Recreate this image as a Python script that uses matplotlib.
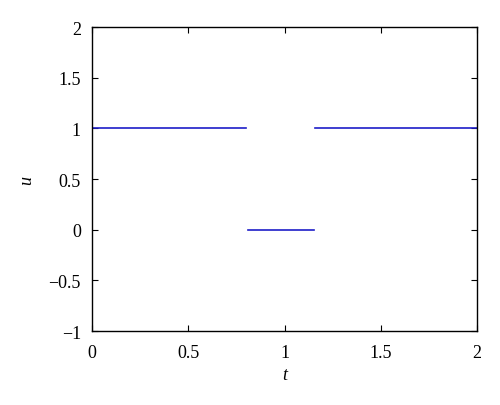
import numpy as np
import matplotlib
matplotlib.use("Agg")
import matplotlib.pyplot as plt

# piecewise constant control u(t)
seg_t = [[0.0, 0.8], [0.808, 1.152], [1.158, 2.0]]
seg_u = [1, 0, 1]

xticks = [0, 0.5, 1, 1.5, 2]
xlabels = ["0", "0.5", "1", "1.5", "2"]
yticks = [-1, -0.5, 0, 0.5, 1, 1.5, 2]
ylabels = ["\u22121", "\u22120.5", "0", "0.5", "1", "1.5", "2"]

plt.rcParams['font.family'] = ['Liberation Serif', 'DejaVu Serif']
plt.rcParams['font.size'] = 13

fig = plt.figure(figsize=(5, 4.06), dpi=100)
ax = fig.add_axes([0.184, 0.182, 0.77, 0.749])

for t, u in zip(seg_t, seg_u):
    ax.plot(t, [u, u], color='#1e1ec8', lw=1.2)

ax.set_xlim(0, 2)
ax.set_ylim(-1, 2)
ax.set_xticks(xticks)
ax.set_xticklabels(xlabels)
ax.set_yticks(yticks)
ax.set_yticklabels(ylabels)
ax.tick_params(axis='x', pad=9)
ax.tick_params(axis='y', pad=8)
ax.tick_params(direction='in', length=4, width=0.8, top=True, right=True)
for s in ax.spines.values():
    s.set_linewidth(1.0)

ax.set_xlabel('t', style='italic', labelpad=4)
ax.set_ylabel('u', style='italic', labelpad=10)

fig.savefig('out.png', dpi=100)
